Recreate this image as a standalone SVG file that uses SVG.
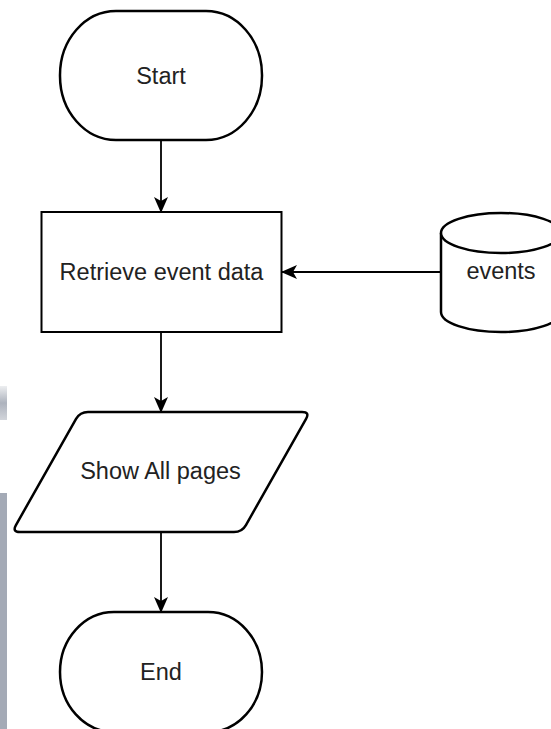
<svg xmlns="http://www.w3.org/2000/svg" width="551" height="729" viewBox="0 0 551 729">
  <defs>
    <marker id="arrow" markerUnits="userSpaceOnUse" markerWidth="16" markerHeight="14" refX="15" refY="7" orient="auto">
      <path d="M0,0 L16,7 L0,14 L4,7 Z" fill="#000"/>
    </marker>
    <linearGradient id="fadeTop" x1="0" y1="0" x2="0" y2="1">
      <stop offset="0" stop-color="#a4aab6" stop-opacity="0.2"/>
      <stop offset="0.5" stop-color="#a4aab6" stop-opacity="0.9"/>
      <stop offset="1" stop-color="#a4aab6" stop-opacity="0.5"/>
    </linearGradient>
  </defs>
  <style>
    .shape { fill: #fff; stroke: #000; stroke-width: 2.5; }
    .box { fill: #fff; stroke: #000; stroke-width: 2; }
    .label { font-family: "Liberation Sans", Arial, sans-serif; font-size: 23.5px; fill: #222; text-anchor: middle; }
    .conn { stroke: #000; stroke-width: 1.8; fill: none; marker-end: url(#arrow); }
  </style>
  <rect x="0" y="0" width="551" height="729" fill="#fff"/>
  <g id="side-bar">
    <rect x="0" y="386" width="7" height="34" fill="url(#fadeTop)"/>
    <rect x="0" y="493" width="7" height="236" fill="#a4aab6"/>
  </g>
  <g id="connectors">
    <line class="conn" x1="161" y1="140" x2="161" y2="212"/>
    <line class="conn" x1="161" y1="332" x2="161" y2="412"/>
    <line class="conn" x1="161" y1="532" x2="161" y2="612"/>
    <line class="conn" x1="441" y1="272" x2="282" y2="272"/>
  </g>
  <g id="start">
    <rect class="shape" x="60" y="11" width="202" height="129" rx="56" ry="64"/>
    <text class="label" x="161" y="83.5">Start</text>
  </g>
  <g id="retrieve">
    <rect class="box" x="41.5" y="212" width="240" height="120"/>
    <text class="label" x="161.5" y="279.5">Retrieve event data</text>
  </g>
  <g id="events">
    <path class="shape" d="M441,233 A60,20 0 0 1 561,233 V312 A60,20 0 0 1 441,312 Z"/>
    <path class="shape" fill="none" d="M441,233 A60,20 0 0 0 561,233"/>
    <text class="label" x="501" y="279">events</text>
  </g>
  <g id="show">
    <path class="shape" d="M88,412 H302 Q310,412 306.06,418.96 L245.94,525.04 Q242,532 234,532 H20 Q12,532 15.94,525.04 L76.06,418.96 Q80,412 88,412 Z"/>
    <text class="label" x="160.5" y="479">Show All pages</text>
  </g>
  <g id="end">
    <rect class="shape" x="60" y="612" width="202" height="120" rx="54" ry="60"/>
    <text class="label" x="161" y="679.5">End</text>
  </g>
</svg>
